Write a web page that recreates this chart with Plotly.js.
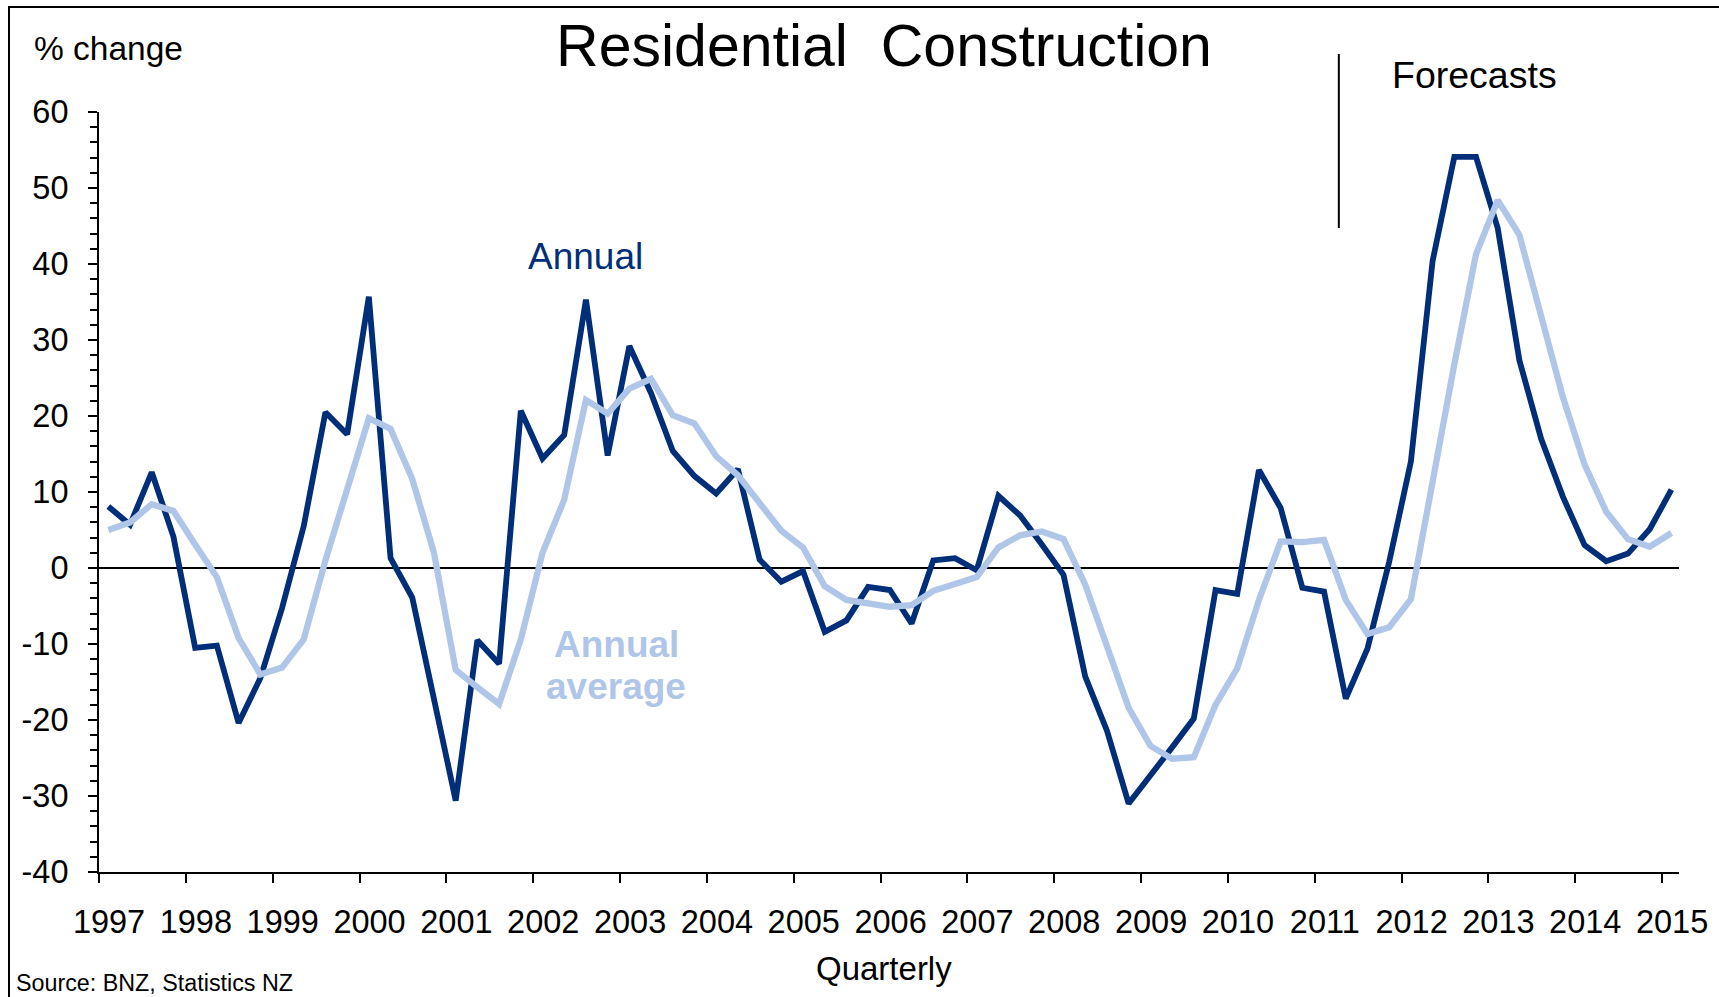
<!DOCTYPE html>
<html>
<head>
<meta charset="utf-8">
<script src="https://cdn.plot.ly/plotly-3.0.1.min.js"></script>
<style>
  html, body { margin: 0; padding: 0; background: #ffffff; }
  #chart { width: 1719px; height: 997px; }
</style>
</head>
<body>
<div id="chart"></div>
<script>
// ---------------- DATA ----------------
const quarters = [
  "1997Q1","1997Q2","1997Q3","1997Q4","1998Q1","1998Q2","1998Q3","1998Q4",
  "1999Q1","1999Q2","1999Q3","1999Q4","2000Q1","2000Q2","2000Q3","2000Q4",
  "2001Q1","2001Q2","2001Q3","2001Q4","2002Q1","2002Q2","2002Q3","2002Q4",
  "2003Q1","2003Q2","2003Q3","2003Q4","2004Q1","2004Q2","2004Q3","2004Q4",
  "2005Q1","2005Q2","2005Q3","2005Q4","2006Q1","2006Q2","2006Q3","2006Q4",
  "2007Q1","2007Q2","2007Q3","2007Q4","2008Q1","2008Q2","2008Q3","2008Q4",
  "2009Q1","2009Q2","2009Q3","2009Q4","2010Q1","2010Q2","2010Q3","2010Q4",
  "2011Q1","2011Q2","2011Q3","2011Q4","2012Q1","2012Q2","2012Q3","2012Q4",
  "2013Q1","2013Q2","2013Q3","2013Q4","2014Q1","2014Q2","2014Q3","2014Q4",
  "2015Q1"
];

const annual = [
   8.1,  5.7, 12.6,  4.1, -10.5, -10.2, -20.4, -14.5,
  -5.3,  5.5, 20.5, 17.6,  35.7,   1.3,  -3.9, -17.5,
 -30.6, -9.5,-12.6, 20.7,  14.4,  17.5,  35.3,  14.8,
  29.2, 23.0, 15.4, 12.1,   9.8,  13.0,   1.1,  -1.8,
  -0.4, -8.4, -6.9, -2.5,  -2.9,  -7.3,   1.0,   1.3,
  -0.3,  9.5,  6.9,  3.1,  -0.9, -14.3, -21.4, -31.0,
 -27.4,-23.6,-19.8, -2.9,  -3.4,  12.9,   7.9,  -2.6,
  -3.1,-17.2,-10.6,  0.8,  14.0,  40.4,  54.1,  54.1,
  44.7, 27.3, 17.0,  9.4,   3.0,   0.9,   1.9,   5.1,
  10.3
];

const annualAverage = [
   5.0,  6.0,  8.4,  7.5,   3.1,  -1.2,  -9.2, -14.0,
 -13.1, -9.4,  1.0, 10.6,  19.7,  18.3,  11.7,   2.0,
 -13.4,-15.7,-17.9, -9.4,   2.0,   9.0,  22.1,  20.3,
  23.6, 24.9, 20.1, 19.0,  14.7,  12.2,   8.6,   4.9,
   2.7, -2.4, -4.2, -4.7,  -5.1,  -4.9,  -3.0,  -2.1,
  -1.2,  2.7,  4.3,  4.8,   3.8,  -2.2, -10.0, -18.4,
 -23.4,-25.1,-24.9,-18.0, -13.2,  -4.2,   3.5,   3.4,
   3.7, -4.2, -8.7, -7.8,  -4.1,  11.5,  26.8,  41.3,
  48.4, 43.8, 33.0, 22.5,  13.6,   7.4,   3.8,   2.8,
   4.6
];

const yearLabels = ["1997","1998","1999","2000","2001","2002","2003","2004","2005",
                    "2006","2007","2008","2009","2010","2011","2012","2013","2014","2015"];
const yTickValues = [60, 50, 40, 30, 20, 10, 0, -10, -20, -30, -40];
const yTickLabels = ["60","50","40","30","20","10","0","-10","-20","-30","-40"];
const forecastStart = 2011.17;   // position of the "Forecasts" divider

// ---------------- STYLE ----------------
const FONT = "Liberation Sans, Arial, Helvetica, sans-serif";
const DARK = "#002e78";
const LIGHT = "#b0c6e8";

const toX = q => Number(q.slice(0, 4)) + (Number(q.slice(5)) - 1) / 4;
const xs = quarters.map(toX);

const traces = [
  { x: xs, y: annual, type: "scatter", mode: "lines", name: "Annual",
    text: quarters, line: { color: DARK, width: 5.8 } },
  { x: xs, y: annualAverage, type: "scatter", mode: "lines", name: "Annual average",
    text: quarters, line: { color: LIGHT, width: 6.3 } }
];

const layout = {
  width: 1719, height: 997,
  margin: { l: 99, r: 40, t: 112, b: 125, pad: 0 },
  paper_bgcolor: "#ffffff", plot_bgcolor: "#ffffff",
  showlegend: false,
  font: { family: FONT, color: "#000000" },
  title: {
    text: "Residential  Construction",
    font: { family: FONT, size: 59, color: "#000000" },
    xref: "container", x: 884 / 1719, xanchor: "center",
    yref: "container", y: 1 - 45 / 997, yanchor: "middle"
  },
  xaxis: {
    range: [1996.8925, 2015.0875],
    tickmode: "array",
    tickvals: yearLabels.map(y => Number(y) - 0.107),
    ticktext: yearLabels,
    ticks: "outside", ticklen: 9, tickwidth: 2, tickcolor: "#000000",
    ticklabelshift: 10, ticklabelstandoff: 11,
    tickfont: { family: FONT, size: 32.5, color: "#000000" },
    showline: true, linecolor: "#000000", linewidth: 2,
    showgrid: false, zeroline: false, fixedrange: true
  },
  yaxis: {
    range: [-40, 60],
    tickmode: "array", tickvals: yTickValues, ticktext: yTickLabels,
    ticks: "outside", ticklen: 9, tickwidth: 2, tickcolor: "#000000",
    ticklabelstandoff: 13,
    tickfont: { family: FONT, size: 32.5, color: "#000000" },
    minor: { tickmode: "linear", tick0: 0, dtick: 2, ticks: "outside",
             ticklen: 7, tickwidth: 2, tickcolor: "#000000", showgrid: false },
    showline: true, linecolor: "#000000", linewidth: 2,
    showgrid: false,
    zeroline: true, zerolinecolor: "#000000", zerolinewidth: 2,
    fixedrange: true
  },
  shapes: [
    // outer frame (right and bottom edges fall outside the picture)
    { type: "rect", xref: "paper", yref: "paper",
      x0: (9 - 99) / 1580, x1: 1.06, y0: -0.22, y1: (872 - 7) / 760,
      line: { color: "#000000", width: 2 }, fillcolor: "rgba(0,0,0,0)", layer: "above" },
    // forecasts divider
    { type: "line", xref: "x", yref: "paper",
      x0: forecastStart, x1: forecastStart,
      y0: (872 - 228) / 760, y1: (872 - 54) / 760,
      line: { color: "#000000", width: 2 } }
  ],
  annotations: [
    { text: "% change", xref: "paper", yref: "paper",
      x: (32 - 99) / 1580, y: (872 - 48.5) / 760, xanchor: "left", yanchor: "middle",
      showarrow: false, font: { family: FONT, size: 33.5, color: "#000000" } },
    { text: "Forecasts", xref: "paper", yref: "paper",
      x: (1474 - 99) / 1580, y: (872 - 75) / 760, xanchor: "center", yanchor: "middle",
      showarrow: false, font: { family: FONT, size: 37.5, color: "#000000" } },
    { text: "Annual", xref: "x", yref: "y", x: 2002.49, y: 40.96,
      xanchor: "center", yanchor: "middle", showarrow: false,
      font: { family: FONT, size: 37, color: DARK } },
    { text: "<b>Annual</b>", xref: "x", yref: "y", x: 2002.85, y: -10.0,
      xanchor: "center", yanchor: "middle", showarrow: false,
      font: { family: FONT, size: 37, color: LIGHT } },
    { text: "<b>average</b>", xref: "x", yref: "y", x: 2002.85, y: -15.53,
      xanchor: "center", yanchor: "middle", showarrow: false,
      font: { family: FONT, size: 37, color: LIGHT } },
    { text: "Quarterly", xref: "paper", yref: "paper",
      x: (884 - 99) / 1580, y: (872 - 969) / 760, xanchor: "center", yanchor: "middle",
      showarrow: false, font: { family: FONT, size: 33, color: "#000000" } },
    { text: "Source: BNZ, Statistics NZ", xref: "paper", yref: "paper",
      x: (14 - 99) / 1580, y: (872 - 983) / 760, xanchor: "left", yanchor: "middle",
      showarrow: false, font: { family: FONT, size: 23.3, color: "#000000" } }
  ]
};

Plotly.newPlot("chart", traces, layout, { displayModeBar: false, staticPlot: true });
</script>
</body>
</html>
